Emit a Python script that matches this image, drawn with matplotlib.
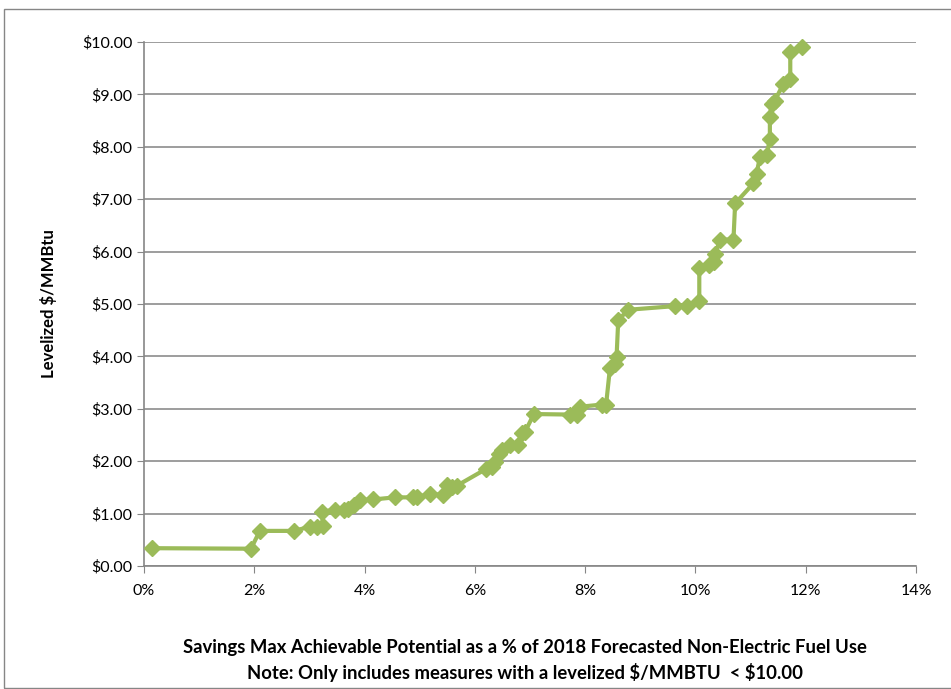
import numpy as np
import matplotlib
matplotlib.use('Agg')
import matplotlib.pyplot as plt
from matplotlib.patches import Rectangle
from matplotlib.ticker import FuncFormatter, MultipleLocator

# Cumulative savings (% of 2018 forecasted non-electric fuel use) vs levelized cost
savings_pct = [0.14, 1.94, 2.10, 2.72, 3.01, 3.13, 3.25, 3.22, 3.46, 3.62, 3.70, 3.80,
               3.92, 4.16, 4.55, 4.88, 4.95, 5.19, 5.43, 5.49, 5.58, 5.67, 6.20, 6.31,
               6.37, 6.43, 6.49, 6.64, 6.79, 6.85, 6.91, 7.07, 7.73, 7.85, 7.91, 8.30,
               8.38, 8.45, 8.54, 8.57, 8.60, 8.78, 9.63, 9.84, 10.07, 10.07, 10.24,
               10.33, 10.36, 10.45, 10.69, 10.72, 11.05, 11.11, 11.17, 11.29, 11.35,
               11.35, 11.38, 11.44, 11.59, 11.72, 11.72, 11.93]
cost = [0.34, 0.33, 0.67, 0.67, 0.75, 0.74, 0.76, 1.04, 1.07, 1.07, 1.08, 1.16,
        1.26, 1.27, 1.31, 1.31, 1.32, 1.37, 1.36, 1.54, 1.51, 1.53, 1.85, 1.88,
        1.99, 2.14, 2.21, 2.31, 2.30, 2.53, 2.56, 2.90, 2.89, 2.89, 3.04, 3.08,
        3.08, 3.78, 3.85, 3.99, 4.69, 4.89, 4.96, 4.97, 5.05, 5.68, 5.74,
        5.81, 5.96, 6.23, 6.23, 6.92, 7.30, 7.49, 7.81, 7.84, 8.14,
        8.57, 8.82, 8.88, 9.19, 9.29, 9.81, 9.91]

green = '#9BBB59'

fig = plt.figure(figsize=(9.51, 6.89), dpi=100)
plt.rcParams['font.family'] = ['Lato', 'DejaVu Sans']

# outer chart border
fig.patches.append(Rectangle((4 / 951, 0.002), 1.2, 1 - 9 / 689 - 0.002,
                             transform=fig.transFigure, fill=False,
                             edgecolor='#868686', linewidth=1.0))

ax = fig.add_axes([144 / 951, 1 - 566 / 689, (916 - 144) / 951, (566 - 42) / 689])
ax.plot(savings_pct, cost, color=green, linewidth=3, marker='D', markersize=8,
        markerfacecolor=green, markeredgecolor=green, clip_on=False, zorder=3)

ax.set_xlim(0, 14)
ax.set_ylim(0, 10)
ax.xaxis.set_major_locator(MultipleLocator(2))
ax.yaxis.set_major_locator(MultipleLocator(1))
ax.xaxis.set_major_formatter(FuncFormatter(lambda v, p: f'{v:.0f}%'))
ax.yaxis.set_major_formatter(FuncFormatter(lambda v, p: f'\\${v:.2f}'))
ax.grid(axis='y', color='#8c8c8c', linewidth=1.2)
ax.set_axisbelow(True)
for s in ['top', 'right']:
    ax.spines[s].set_visible(False)
for s in ['left', 'bottom']:
    ax.spines[s].set_color('#868686')
    ax.spines[s].set_linewidth(1.2)
ax.tick_params(axis='both', colors='#868686', length=5, labelcolor='black', labelsize=11.5)
ax.tick_params(axis='x', pad=8)

ax.set_ylabel('Levelized \\$/MMBtu', fontsize=12, fontweight='bold', labelpad=18)
fig.text(525 / 951, 1 - 648 / 689,
         'Savings Max Achievable Potential as a % of 2018 Forecasted Non-Electric Fuel Use',
         ha='center', va='center', fontsize=13.3, fontweight='bold')
fig.text(525 / 951, 1 - 672 / 689,
         'Note: Only includes measures with a levelized \\$/MMBTU  < \\$10.00',
         ha='center', va='center', fontsize=13.3, fontweight='bold')

fig.savefig('out.png', dpi=100)
